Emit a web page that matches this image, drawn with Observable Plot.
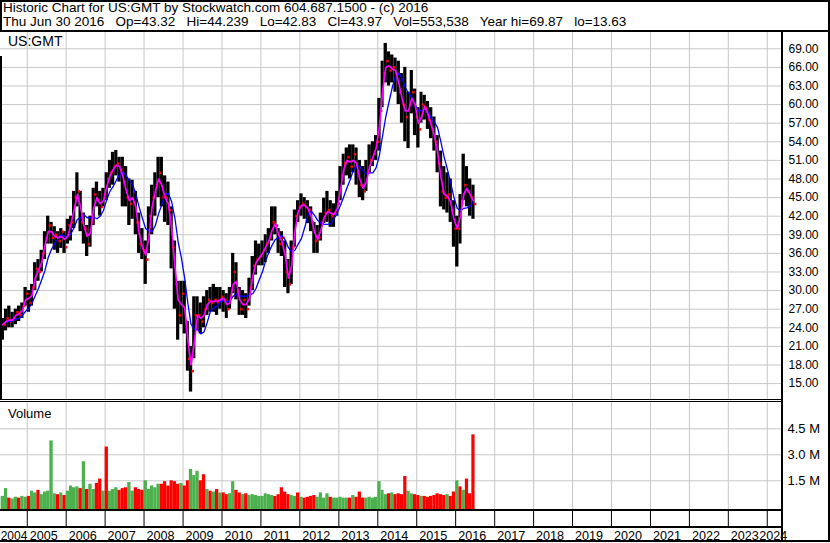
<!DOCTYPE html>
<html><head><meta charset="utf-8">
<script src="https://cdn.jsdelivr.net/npm/d3@7"></script>
<script src="https://cdn.jsdelivr.net/npm/@observablehq/plot@0.6"></script>
<style>
html,body{margin:0;padding:0;background:#fff;}
#wrap{position:relative;width:830px;height:543px;overflow:hidden;background:#fff;font-family:"Liberation Sans",Arial,sans-serif;color:#000;}
.ln{position:absolute;background:#000;z-index:5;}
.txt{position:absolute;font-size:13px;line-height:15px;white-space:pre;z-index:6;}
.hd{font-size:13.5px;}
.pl{position:absolute;left:0;}
.pl svg{display:block;overflow:visible;}
</style></head>
<body><div id="wrap">
<div class="txt hd" style="left:3px;top:0px">Historic Chart for US:GMT by Stockwatch.com 604.687.1500 - (c) 2016</div>
<div class="txt hd" style="left:3px;top:14px">Thu Jun 30 2016   Op=43.32   Hi=44.239   Lo=42.83   Cl=43.97   Vol=553,538   Year hi=69.87   lo=13.63</div>
<div class="txt" style="left:8px;top:34px;font-size:14px">US:GMT</div>
<div class="txt" style="left:8px;top:406px">Volume</div>
<div id="price" class="pl" style="top:31px"></div>
<div id="vol" class="pl" style="top:401px"></div>
<div id="axis" class="pl" style="top:510px"></div>
<div class="ln" style="left:0;top:0;width:830px;height:2px"></div>
<div class="ln" style="left:0;top:0;width:2px;height:31px"></div>
<div class="ln" style="left:0;top:56px;width:2px;height:343px"></div>
<div class="ln" style="left:0;top:30px;width:830px;height:2px"></div>
<div class="ln" style="left:828px;top:0;width:2px;height:542px"></div>
<div class="ln" style="left:781px;top:30px;width:2px;height:512px"></div>
<div class="ln" style="left:0;top:399px;width:782px;height:1px"></div>
<div class="ln" style="left:0;top:401px;width:782px;height:1px"></div>
<div class="ln" style="left:0;top:509px;width:782px;height:2px"></div>
<div class="ln" style="left:0;top:526px;width:782px;height:2px"></div>
<div class="ln" style="left:0;top:540px;width:830px;height:2px"></div>
</div>
<script>
// ---- data (monthly, May 2004 .. Jun 2016) ----
const high = [
  25.5, 27, 27.5, 26.5, 27, 27.5, 28, 30.5,                      // 2004 May-Dec
  30, 31, 34.5, 35, 36.5, 39.5, 42, 41, 40.3, 39.5, 40, 39.5,       // 2005
  41.5, 42, 46, 49, 46, 42.5, 40.5, 42, 46.5, 47.5, 46, 46.5,       // 2006
  49, 51, 52.3, 52.6, 51.5, 51.5, 50, 48, 47.8, 46, 42.5, 40,       // 2007
  38, 43.5, 47, 49, 51.5, 51.5, 48.5, 47.5, 43.5, 38, 31.5, 31.5,   // 2008
  31.5, 25, 21, 29, 29, 28, 29, 30, 30.5, 31, 30.5, 30.5,           // 2009
  30, 29.5, 30.5, 36, 34.5, 30.5, 30, 29.5, 32, 35.5, 38, 37.5,     // 2010
  38, 39, 40, 43.5, 43.5, 40, 39.5, 38, 35, 38, 43, 44.5,           // 2011
  45.6, 45, 44.5, 43.5, 41, 40.5, 42.5, 44.9, 46, 44.5, 44, 46,     // 2012
  50, 52, 53, 53.5, 53.5, 53, 51, 50, 51, 53.5, 54, 55,             // 2013
  61, 67, 69.87, 68.5, 68, 67.5, 67, 65, 66, 62, 65.5, 62.5,        // 2014
  59.5, 62, 61.5, 60.5, 59.5, 58, 55, 52.5, 50, 49, 48, 44.5,       // 2015
  42, 45.5, 52, 50, 48, 47                                          // 2016 Jan-Jun
];
const low = [
  22, 23.5, 24, 24, 24.5, 25, 25.5, 27.5,
  26.5, 27.5, 30, 31.5, 33, 35, 37.5, 37.5, 36.5, 36, 36.8, 36,
  37.5, 38, 40, 43.5, 39.5, 37.5, 35.5, 37, 40.5, 43.5, 42, 43.5,
  44.5, 46.5, 47, 48.5, 47.5, 43.5, 43.5, 40.5, 41.5, 39, 36, 35,
  31, 36, 39, 42, 45, 43.5, 41, 40.5, 33.5, 27, 22, 24.5,
  23, 17, 13.63, 19, 23.5, 23, 24, 26, 26.5, 26.5, 26, 27,
  26.5, 25.5, 27, 29.5, 28.5, 26, 26, 25.5, 27.5, 30, 32.5, 34,
  34, 34.5, 36, 38, 39, 36, 35.5, 30.5, 29.5, 31, 37, 41,
  42, 41.5, 40.8, 39.5, 36, 36, 38, 40.8, 41, 40.2, 40.2, 42,
  44.5, 47, 48.5, 48, 49, 47, 45, 44.5, 46, 49, 50, 51,
  52.5, 59.5, 63.5, 63, 63.5, 62, 60, 57, 54, 52.9, 58.5, 55,
  53, 57, 57.5, 56, 54.5, 52.5, 49, 43.5, 43, 42.5, 41, 37,
  33.8, 37.5, 44.5, 43.5, 42, 41.5
];
const close = [
  24.5, 25.5, 25, 25.5, 26.5, 26, 27.5, 29.5,
  28, 30.5, 33.5, 33, 36, 38.5, 40.5, 38.5, 39, 38, 39.5, 37,
  40.5, 41, 45, 46, 41, 40, 37.5, 41, 45.5, 44.5, 43.5, 45.5,
  48, 49, 50, 50.5, 49.5, 47.5, 45, 44, 46, 41, 37.5, 36.5,
  35, 42, 45, 47, 49, 45, 45, 43, 37, 31, 26, 29.5,
  25, 19, 17, 26, 26, 25, 27, 28.5, 28, 28.5, 28, 29,
  28.5, 27, 29, 33, 30, 27, 28.5, 27, 30.5, 34, 35, 35.5,
  36.5, 37.5, 38.5, 41, 40.5, 37.5, 38.5, 33, 31, 37, 42, 43.5,
  44, 43.5, 43, 41, 38, 38.5, 41, 42.5, 43, 42, 42.5, 44,
  48.5, 50.5, 51.5, 50, 52, 49, 47, 46, 49, 51, 52, 54,
  59, 65, 67, 65.5, 66, 65, 62, 60, 58, 60, 62, 58,
  56, 60, 59.5, 57.5, 56, 54, 50.5, 46, 45, 45.5, 43, 40,
  40, 44, 47, 46, 45, 43.97
];
const volume = [ // millions of shares
  0.6, 1.05, 0.5, 0.45, 0.55, 0.5, 0.6, 0.55,
  0.6, 0.9, 0.8, 0.95, 0.7, 0.85, 0.9, 3.8, 0.75, 0.7, 0.8, 0.65,
  0.9, 1.2, 1.1, 1.15, 1.05, 2.6, 1.0, 1.3, 1.0, 1.35, 1.6, 0.9,
  3.45, 0.9, 1.0, 1.1, 0.95, 1.05, 1.1, 1.4, 0.9, 1.1, 1.0, 0.95,
  1.5, 1.0, 1.2, 1.1, 1.3, 1.3, 1.45, 1.2, 1.5, 1.45, 1.3, 1.35,
  1.2, 1.5, 2.15, 1.8, 2.05, 1.5, 1.85, 1.0, 0.9, 0.85, 1.0, 0.8,
  0.8, 0.7, 0.75, 1.45, 0.95, 0.8, 0.7, 0.75, 0.65, 0.7, 0.65, 0.6,
  0.6, 0.75, 0.7, 0.65, 0.6, 0.7, 1.1, 0.85, 0.7, 0.65, 0.6, 0.8,
  0.55, 0.5, 0.55, 0.6, 0.65, 0.55, 0.8, 0.5, 0.75, 0.55, 0.5, 0.5,
  0.55, 0.5, 0.5, 0.5, 0.65, 0.55, 0.85, 0.5, 0.5, 0.55, 0.5, 0.55,
  1.45, 0.95, 0.7, 0.75, 0.8, 0.7, 0.75, 0.7, 1.75, 0.9, 0.75, 0.7,
  0.65, 0.6, 0.6, 0.55, 0.6, 0.65, 0.75, 0.7, 0.65, 0.7, 0.6, 0.85,
  1.5, 1.15, 0.95, 1.6, 0.75, 4.15
];
const direction = [ // 1 = up (green), 0 = down (red)
  1,1,0,1,1,0,1,1,
  0,1,1,0,1,1,1,1,1,0,1,0,
  1,1,1,1,0,1,0,1,1,0,0,1,
  0,1,1,1,0,0,0,1,1,0,0,0,
  1,1,1,1,1,0,0,0,0,0,0,1,
  0,0,1,1,1,0,0,1,0,1,0,1,
  0,0,1,1,0,0,1,0,1,1,1,1,
  1,1,1,1,0,0,0,0,0,1,1,0,
  1,0,0,0,0,1,1,1,1,0,1,1,
  1,1,1,0,1,0,0,0,1,1,1,1,
  1,1,1,0,1,0,0,0,0,1,1,0,
  0,1,0,0,0,0,0,0,0,1,0,0,
  1,0,1,0,0,0
];
const priceTicks = [15, 18, 21, 24, 27, 30, 33, 36, 39, 42, 45, 48, 51, 54, 57, 60, 63, 66, 69];
const volumeTicks = [1.5, 3.0, 4.5];
const years = [2004, 2005, 2006, 2007, 2008, 2009, 2010, 2011, 2012, 2013, 2014, 2015, 2016, 2017, 2018, 2019, 2020, 2021, 2022, 2023, 2024];

// ---- build table ----
const months = d3.utcMonth.range(new Date(Date.UTC(2004, 4, 1)), new Date(Date.UTC(2016, 6, 1)));
const bars = months.map((m, i) => {
  const e = d3.utcMonth.offset(m, 1);
  return {start: m, end: e, mid: new Date((+m + +e) / 2),
    high: high[i], low: low[i], close: close[i], volume: volume[i], up: direction[i] === 1};
});
const yearDate = y => new Date(Date.UTC(y, 0, 1));
const gridYears = years.slice(1);

const xDomain = [new Date(Date.UTC(2004, 3, 25)), new Date(Date.UTC(2024, 4, 23))];
const common = {
  width: 830, marginLeft: 0, marginRight: 48, marginTop: 0, marginBottom: 0,
  x: {type: "utc", domain: xDomain, axis: null},
  style: {background: "transparent", fontFamily: "'Liberation Sans', Arial, sans-serif", overflow: "visible", color: "#000"}
};
const GRID = "#c8c8c8";

const price = Plot.plot({
  ...common, height: 369,
  y: {domain: [12.27, 71.79], axis: null},
  marks: [
    Plot.ruleY(priceTicks, {stroke: GRID}),
    Plot.ruleX(gridYears, {x: yearDate, stroke: GRID}),
    Plot.rect(bars, {x1: "start", x2: "end", y1: "low", y2: "high", fill: "#000"}),
    Plot.dot(bars, {x: "end", y: "close", r: 1.4, symbol: "square", fill: "#ff0000", stroke: null}),
    Plot.lineY(bars, Plot.windowY({k: 6, anchor: "end"}, {x: "mid", y: "close", stroke: "#0000ff", strokeWidth: 1.3})),
    Plot.lineY(bars, Plot.windowY({k: 2, anchor: "end"}, {x: "mid", y: "close", stroke: "#ff00ff", strokeWidth: 1.7})),
    Plot.text(priceTicks, {y: d => d, frameAnchor: "right", textAnchor: "start", dx: 6, text: d => d.toFixed(2), fontSize: 12, fill: "#000"})
  ]
});
document.getElementById("price").appendChild(price);

const vol = Plot.plot({
  ...common, height: 109,
  y: {domain: [-0.2135, 6.076], axis: null},
  marks: [
    Plot.ruleY(volumeTicks, {stroke: GRID}),
    Plot.ruleX(gridYears, {x: yearDate, stroke: GRID}),
    Plot.rect(bars.filter(d => d.up), {x1: "start", x2: "end", y1: () => -0.16, y2: "volume", fill: "#4cb04c"}),
    Plot.rect(bars.filter(d => !d.up), {x1: "start", x2: "end", y1: () => -0.16, y2: "volume", fill: "#ff0000"}),
    Plot.text(volumeTicks, {y: d => d, frameAnchor: "right", textAnchor: "start", dx: 5, text: d => d.toFixed(1) + " M", fontSize: 13, fill: "#000"})
  ]
});
document.getElementById("vol").appendChild(vol);

const axis = Plot.plot({
  ...common, height: 33,
  y: {domain: [0, 33], range: [0, 33], axis: null},
  marks: [
    Plot.ruleX(gridYears, {x: yearDate, y1: () => 0, y2: () => 16.5, stroke: "#000"}),
    Plot.text(years.slice(1, -1), {x: yearDate, y: () => 25.3, text: d => String(d), textAnchor: "start", dx: 2.5, fontSize: 12.6, fill: "#000"}),
    Plot.text(years.slice(0, 1), {frameAnchor: "left", y: () => 25.3, text: d => String(d), textAnchor: "start", dx: 0.2, fontSize: 12, fill: "#000"}),
    Plot.text(years.slice(-1), {frameAnchor: "right", y: () => 25.3, text: d => String(d), textAnchor: "start", dx: -23.3, fontSize: 12.6, fill: "#000"})
  ]
});
document.getElementById("axis").appendChild(axis);
</script>
</body></html>
